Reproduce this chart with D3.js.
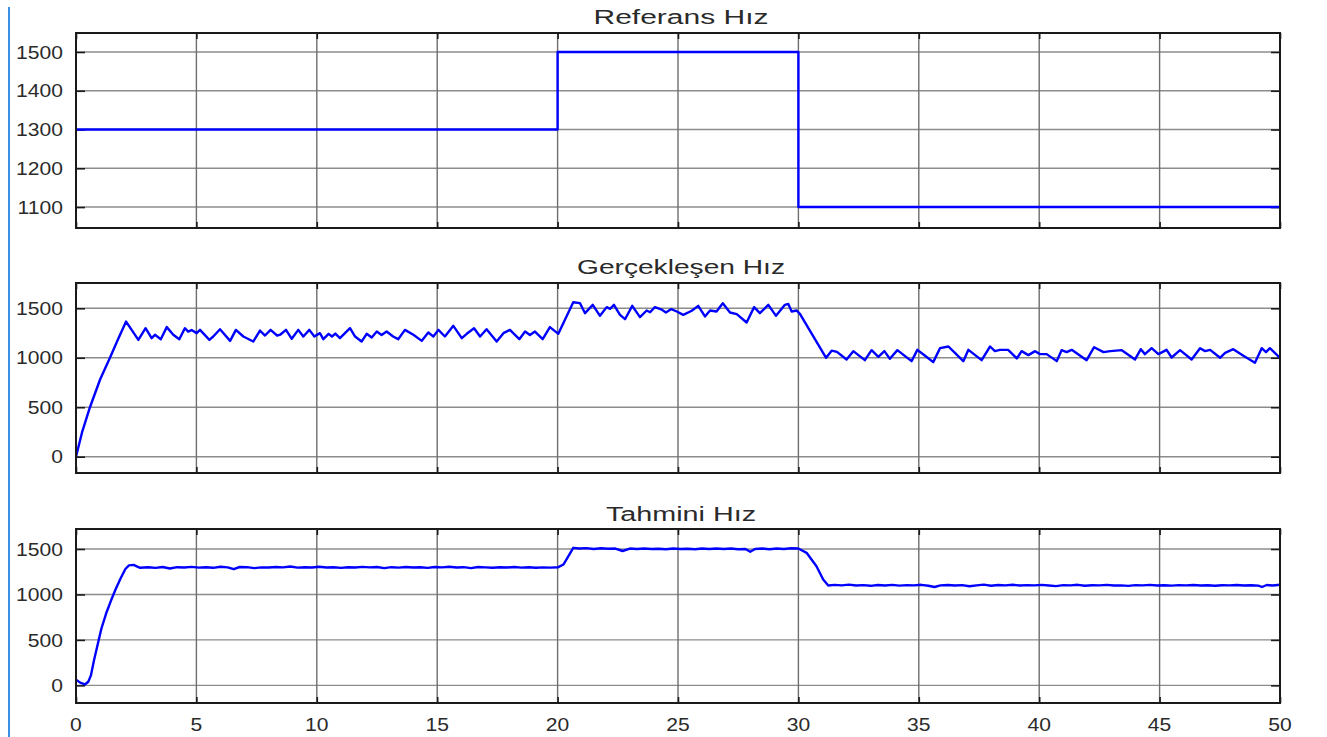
<!DOCTYPE html>
<html>
<head>
<meta charset="utf-8">
<script src="https://cdn.jsdelivr.net/npm/d3@7"></script>
<style>
  html, body { margin: 0; padding: 0; background: #fff; }
  svg { display: block; }
  text { font-family: "Liberation Sans", Arial, sans-serif; fill: #2a2a2a; }
</style>
</head>
<body>
<svg id="chart" width="1327" height="737"></svg>
<script>
// ---- data -------------------------------------------------------------
const panelTitles = ["Referans Hız", "Gerçekleşen Hız", "Tahmini Hız"];
const timeTicks = [0, 5, 10, 15, 20, 25, 30, 35, 40, 45, 50];
const referenceTicks = [1100, 1200, 1300, 1400, 1500];
const speedTicks = [0, 500, 1000, 1500];

// reference speed command [t (s), rpm], held until the next point
const referenceSpeed = [[0, 1300], [20, 1500], [30, 1100], [50, 1100]];

// measured speed [t (s), rpm]
const actualSpeed = [
  [0,0],[0.25,245],[0.58,500],[1.0,780],[1.41,1000],[1.75,1190],[2.08,1366],[2.59,1181],[2.89,1299],[3.14,1198],[3.28,1232],[3.52,1188],
  [3.77,1310],[4.04,1232],[4.29,1188],[4.52,1299],[4.66,1265],[4.8,1280],[5.01,1249],[5.15,1282],
  [5.54,1181],[5.7,1215],[5.98,1289],[6.4,1171],[6.64,1282],[6.95,1215],[7.36,1164],[7.64,1275],
  [7.85,1225],[8.08,1282],[8.35,1225],[8.49,1235],[8.72,1282],[8.96,1192],[9.23,1282],[9.44,1215],
  [9.69,1282],[9.9,1215],[10.13,1249],[10.27,1188],[10.49,1242],[10.63,1215],[10.77,1245],[10.96,1198],
  [11.38,1299],[11.59,1215],[11.86,1164],[12.07,1242],[12.28,1205],[12.49,1265],[12.69,1230],[12.9,1265],
  [13.17,1215],[13.38,1188],[13.66,1282],[14.01,1232],[14.36,1171],[14.63,1255],[14.84,1215],[15.05,1282],
  [15.32,1215],[15.67,1323],[16.02,1198],[16.24,1245],[16.53,1299],[16.78,1215],[17.05,1289],[17.47,1164],
  [17.75,1249],[18.02,1282],[18.41,1188],[18.65,1265],[18.85,1230],[19.06,1265],[19.38,1188],[19.68,1310],
  [20.03,1242],[20.65,1562],[20.93,1552],[21.14,1451],[21.46,1535],[21.76,1424],[22.04,1512],[22.18,1495],
  [22.34,1535],[22.59,1434],[22.8,1390],[23.1,1525],[23.42,1411],[23.7,1478],[23.84,1460],[24.04,1512],
  [24.3,1490],[24.5,1458],[24.72,1492],[24.95,1468],[25.22,1434],[25.57,1475],[25.84,1525],[26.12,1418],
  [26.33,1478],[26.6,1468],[26.86,1552],[27.16,1458],[27.44,1441],[27.85,1357],[28.16,1512],[28.4,1451],
  [28.75,1535],[29.07,1424],[29.44,1535],[29.58,1545],[29.72,1468],[29.93,1478],[30.07,1441],[31.15,1000],
  [31.38,1072],[31.6,1060],[32.0,983],[32.28,1067],[32.76,976],[33.04,1077],[33.32,1010],[33.57,1067],
  [33.8,990],[34.11,1077],[34.7,966],[34.94,1080],[35.26,1020],[35.6,956],[35.88,1097],[36.23,1114],
  [36.5,1050],[36.85,966],[37.06,1080],[37.61,976],[37.96,1114],[38.16,1067],[38.37,1080],[38.71,1080],
  [39.07,993],[39.27,1067],[39.55,1027],[39.83,1067],[40.03,1037],[40.31,1037],[40.73,966],[40.93,1077],
  [41.14,1057],[41.35,1080],[41.97,976],[42.28,1107],[42.67,1057],[42.95,1067],[43.43,1077],[43.98,983],
  [44.22,1087],[44.39,1037],[44.67,1097],[44.95,1037],[45.29,1080],[45.5,1003],[45.85,1077],[46.33,983],
  [46.68,1097],[46.89,1067],[47.1,1080],[47.51,1000],[47.72,1050],[48.06,1087],[48.48,1020],[48.96,950],
  [49.24,1097],[49.42,1057],[49.58,1097],[50,1000]
];

// estimated speed from the observer [t (s), rpm]
const estimatedSpeed = [
  [0,63],[0.17,30],[0.37,10],[0.51,40],[0.62,110],[0.75,280],[0.9,450],[1.05,620],[1.25,790],[1.45,930],
  [1.65,1060],[1.85,1175],[2.05,1280],[2.2,1320],[2.39,1325],
  [2.66,1293],[3.0,1300],[3.3,1292],[3.6,1302],[3.9,1285],[4.2,1300],[4.5,1296],[4.8,1303],[5.1,1295],
  [5.4,1300],[5.7,1293],[6.0,1305],[6.3,1298],[6.55,1278],[6.8,1302],[7.1,1300],[7.4,1290],[7.7,1298],
  [8.0,1296],[8.3,1302],[8.6,1298],[8.9,1308],[9.2,1295],[9.5,1300],[9.8,1297],[10.1,1305],[10.4,1296],
  [10.7,1300],[11.0,1292],[11.3,1300],[11.6,1296],[11.9,1303],[12.2,1298],[12.5,1302],[12.8,1290],
  [13.1,1300],[13.4,1295],[13.7,1302],[14.0,1296],[14.3,1300],[14.6,1292],[14.9,1302],[15.2,1298],
  [15.5,1305],[15.8,1296],[16.1,1300],[16.4,1290],[16.7,1302],[17.0,1298],[17.3,1293],[17.6,1300],
  [17.9,1296],[18.2,1302],[18.5,1295],[18.8,1300],[19.1,1293],[19.4,1298],[19.7,1295],[20.03,1300],
  [20.24,1329],[20.45,1421],[20.65,1513],[20.9,1505],[21.2,1510],[21.5,1500],[21.8,1508],[22.1,1502],
  [22.4,1505],[22.7,1478],[23.0,1505],[23.3,1500],[23.6,1506],[23.9,1500],[24.2,1503],[24.5,1498],
  [24.8,1505],[25.1,1500],[25.4,1503],[25.7,1497],[26.0,1505],[26.3,1500],[26.6,1506],[26.9,1500],
  [27.2,1505],[27.5,1498],[27.8,1500],[28.0,1470],[28.2,1500],[28.5,1505],[28.8,1498],[29.1,1506],
  [29.4,1500],[29.7,1508],[30.0,1505],[30.34,1458],[30.75,1311],[31.03,1164],[31.24,1098],[31.5,1105],
  [31.8,1100],[32.1,1108],[32.4,1098],[32.7,1103],[33.0,1095],[33.3,1104],[33.6,1098],[33.9,1105],
  [34.2,1097],[34.5,1103],[34.8,1100],[35.1,1106],[35.4,1096],[35.65,1082],[35.9,1100],[36.2,1104],
  [36.5,1098],[36.8,1103],[37.1,1090],[37.4,1100],[37.7,1108],[38.0,1096],[38.3,1104],[38.6,1100],
  [38.9,1106],[39.2,1098],[39.5,1103],[39.8,1100],[40.1,1105],[40.4,1098],[40.7,1092],[41.0,1102],
  [41.3,1100],[41.6,1106],[41.9,1096],[42.2,1102],[42.5,1100],[42.8,1105],[43.1,1098],[43.4,1100],
  [43.7,1094],[44.0,1103],[44.3,1100],[44.6,1105],[44.9,1098],[45.2,1102],[45.5,1097],[45.8,1103],
  [46.1,1100],[46.4,1104],[46.7,1098],[47.0,1101],[47.3,1096],[47.6,1102],[47.9,1100],[48.2,1104],
  [48.5,1098],[48.8,1101],[49.1,1097],[49.25,1082],[49.45,1104],[49.7,1098],[50,1106]
];

// ---- layout -----------------------------------------------------------
const svg = d3.select("#chart");
const left = 76, right = 1280;
const x = d3.scaleLinear().domain([0, 50]).range([left, right]);

const panels = [
  { title: panelTitles[0], titleY: 24, titleW: 175, top: 33, bottom: 228,
    yDomain: [1046, 1549], ticks: referenceTicks, data: referenceSpeed, curve: d3.curveStepAfter },
  { title: panelTitles[1], titleY: 274, titleW: 208, top: 283, bottom: 473,
    yDomain: [-165, 1756], ticks: speedTicks, data: actualSpeed, curve: d3.curveLinear },
  { title: panelTitles[2], titleY: 521, titleW: 150, top: 529, bottom: 703,
    yDomain: [-194, 1720], ticks: speedTicks, data: estimatedSpeed, curve: d3.curveLinear, xLabels: true }
];

// stretch a text element to the given width
function fitWidth(sel, factor, fixed) {
  sel.each(function () {
    const w = fixed || this.getComputedTextLength() * factor;
    d3.select(this).attr("textLength", w).attr("lengthAdjust", "spacingAndGlyphs");
  });
}

// thin blue rule down the left edge of the figure
svg.append("line")
  .attr("x1", 9).attr("x2", 9).attr("y1", 7).attr("y2", 737)
  .attr("stroke", "#3a8fe4").attr("stroke-width", 2);

panels.forEach(p => {
  const y = d3.scaleLinear().domain(p.yDomain).range([p.bottom, p.top]);
  const g = svg.append("g");

  // grid
  g.append("g").selectAll("line.h").data(p.ticks).join("line")
    .attr("x1", left).attr("x2", right)
    .attr("y1", d => y(d)).attr("y2", d => y(d))
    .attr("stroke", "#8c8c8c").attr("stroke-width", 1.4);
  g.append("g").selectAll("line.v").data(timeTicks.slice(1, -1)).join("line")
    .attr("x1", d => x(d)).attr("x2", d => x(d))
    .attr("y1", p.top).attr("y2", p.bottom)
    .attr("stroke", "#6e6e6e").attr("stroke-width", 1.4);

  // inward ticks on all four sides
  const yAxisL = d3.axisLeft(y).tickValues(p.ticks).tickSize(-9).tickFormat("");
  const yAxisR = d3.axisRight(y).tickValues(p.ticks).tickSize(-9).tickFormat("");
  const xAxisT = d3.axisTop(x).tickValues(timeTicks).tickSize(-6).tickFormat("");
  const xAxisB = d3.axisBottom(x).tickValues(timeTicks).tickSize(-6).tickFormat("");
  [[yAxisL, `translate(${left},0)`], [yAxisR, `translate(${right},0)`],
   [xAxisT, `translate(0,${p.top})`], [xAxisB, `translate(0,${p.bottom})`]].forEach(([ax, tr]) => {
    const a = g.append("g").attr("transform", tr).call(ax);
    a.select(".domain").remove();
    a.selectAll(".tick line").attr("stroke", "#1a1a1a").attr("stroke-width", 1.6);
  });

  // y tick labels
  const yl = g.append("g").selectAll("text").data(p.ticks).join("text")
    .attr("x", 63).attr("y", d => y(d) + 6.7)
    .attr("text-anchor", "end").attr("font-size", 18.5)
    .text(d => d);
  fitWidth(yl, 1.14);

  // series
  const line = d3.line().x(d => x(d[0])).y(d => y(d[1])).curve(p.curve);
  g.append("path").datum(p.data)
    .attr("d", line).attr("fill", "none")
    .attr("stroke", "#0000ff").attr("stroke-width", 2.4)
    .attr("stroke-linejoin", "round");

  // frame
  g.append("rect")
    .attr("x", left).attr("y", p.top)
    .attr("width", right - left).attr("height", p.bottom - p.top)
    .attr("fill", "none").attr("stroke", "#1a1a1a").attr("stroke-width", 2);

  // title
  const t = g.append("text")
    .attr("x", (left + right) / 2 + 3).attr("y", p.titleY)
    .attr("text-anchor", "middle").attr("font-size", 20)
    .text(p.title);
  fitWidth(t, 1, p.titleW);

  // time labels under the last panel
  if (p.xLabels) {
    const xl = g.append("g").selectAll("text").data(timeTicks).join("text")
      .attr("x", d => x(d)).attr("y", 730.5)
      .attr("text-anchor", "middle").attr("font-size", 18.5)
      .text(d => d);
    fitWidth(xl, 1.14);
  }
});
</script>
</body>
</html>
